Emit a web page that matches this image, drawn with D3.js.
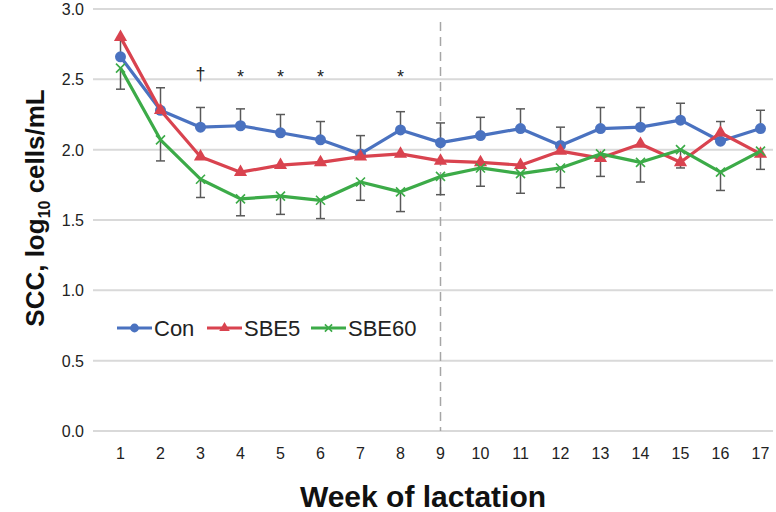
<!DOCTYPE html>
<html lang="en">
<head>
    <meta charset="UTF-8">
    <script src="https://cdn.jsdelivr.net/npm/d3@7/dist/d3.min.js"></script>
    <title>SCC by week</title>
    <style>
        body { margin: 0; background: #fff; }
        text { font-family: Arial, "Liberation Sans", sans-serif; }
    </style>
</head>
<body>
    <svg width="776" height="512"></svg>
    <script>
        const weeks = [1, 2, 3, 4, 5, 6, 7, 8, 9, 10, 11, 12, 13, 14, 15, 16, 17];
        const con   = [2.66, 2.28, 2.16, 2.17, 2.12, 2.07, 1.97, 2.14, 2.05, 2.10, 2.15, 2.03, 2.15, 2.16, 2.21, 2.06, 2.15];
        const conSE = [0.13, 0.16, 0.14, 0.12, 0.13, 0.13, 0.13, 0.13, 0.14, 0.13, 0.14, 0.13, 0.15, 0.14, 0.12, 0.14, 0.13];
        const sbe5  = [2.80, 2.28, 1.95, 1.84, 1.89, 1.91, 1.95, 1.97, 1.92, 1.91, 1.89, 1.99, 1.94, 2.04, 1.91, 2.12, 1.97];
        const sbe60 = [2.58, 2.07, 1.79, 1.65, 1.67, 1.64, 1.77, 1.70, 1.81, 1.87, 1.83, 1.87, 1.97, 1.91, 2.00, 1.84, 1.99];
        const sbe60SE = [0.15, 0.15, 0.13, 0.12, 0.13, 0.13, 0.13, 0.14, 0.13, 0.13, 0.14, 0.14, 0.16, 0.14, 0.13, 0.13, 0.13];
        const yTicks = [0, 0.5, 1.0, 1.5, 2.0, 2.5, 3.0];
        const marks = [{ week: 3, sym: "\u2020" }, { week: 4, sym: "*" }, { week: 5, sym: "*" }, { week: 6, sym: "*" }, { week: 8, sym: "*" }];

        const svg = d3.select('svg');
        const x = d3.scaleLinear().domain([1, 17]).range([120.5, 760.5]);
        const y = d3.scaleLinear().domain([0, 3]).range([431, 9]);

        const series = [
            { name: 'Con', vals: con, color: '#4a72c0', shape: 'circle' },
            { name: 'SBE5', vals: sbe5, color: '#d9434f', shape: 'triangle' },
            { name: 'SBE60', vals: sbe60, color: '#3cab48', shape: 'cross' }
        ];

        // grid lines
        svg.append('g').selectAll('line').data(yTicks).join('line')
            .attr('x1', 93).attr('x2', 773)
            .attr('y1', d => y(d)).attr('y2', d => y(d))
            .attr('stroke', '#d9d9d9').attr('stroke-width', 2);

        // y tick labels
        svg.append('g').selectAll('text').data(yTicks).join('text')
            .attr('x', 84).attr('y', d => y(d) + 6)
            .attr('text-anchor', 'end').attr('font-size', 16).attr('fill', '#222')
            .text(d => d.toFixed(1));

        // x tick labels
        svg.append('g').selectAll('text').data(weeks).join('text')
            .attr('x', d => x(d)).attr('y', 459)
            .attr('text-anchor', 'middle').attr('font-size', 16).attr('fill', '#222')
            .text(d => d);

        // dashed line at week 9
        svg.append('line')
            .attr('x1', x(9)).attr('x2', x(9)).attr('y1', 22).attr('y2', 431)
            .attr('stroke', '#a6a6a6').attr('stroke-width', 1.5).attr('stroke-dasharray', '9,6');

        // error bars
        function errorBars(vals, se, dir) {
            const g = svg.append('g').attr('stroke', '#595959').attr('stroke-width', 1.5);
            weeks.forEach((w, i) => {
                const y0 = y(vals[i]);
                const y1 = y(vals[i] + dir * se[i]);
                g.append('line').attr('x1', x(w)).attr('x2', x(w)).attr('y1', y0).attr('y2', y1);
                g.append('line').attr('x1', x(w) - 4.5).attr('x2', x(w) + 4.5).attr('y1', y1).attr('y2', y1);
            });
        }
        errorBars(con, conSE, 1);
        errorBars(sbe60, sbe60SE, -1);

        const line = d3.line().x((d, i) => x(weeks[i])).y(d => y(d));

        function drawMarker(g, shape, cx, cy, color, s) {
            if (shape === 'circle') {
                g.append('circle').attr('cx', cx).attr('cy', cy).attr('r', 5.5 * s).attr('fill', color);
            } else if (shape === 'triangle') {
                g.append('path').attr('d', d3.symbol().type(d3.symbolTriangle).size(75 * s * s)())
                    .attr('transform', `translate(${cx},${cy})`).attr('fill', color);
            } else {
                const r = 4.5 * s;
                g.append('path').attr('d', `M${cx - r},${cy - r}L${cx + r},${cy + r}M${cx - r},${cy + r}L${cx + r},${cy - r}`)
                    .attr('stroke', color).attr('stroke-width', 1.6).attr('fill', 'none');
            }
        }

        series.forEach(s => {
            const g = svg.append('g');
            g.append('path').datum(s.vals).attr('d', line)
                .attr('fill', 'none').attr('stroke', s.color).attr('stroke-width', 3.2)
                .attr('stroke-linejoin', 'round');
            s.vals.forEach((v, i) => drawMarker(g, s.shape, x(weeks[i]), y(v), s.color, 1));
        });

        // significance marks
        svg.append('g').selectAll('text').data(marks).join('text')
            .attr('x', d => x(d.week)).attr('y', d => d.sym === '*' ? 83 : 80)
            .attr('text-anchor', 'middle').attr('font-size', d => d.sym === '*' ? 18 : 18).attr('fill', '#222')
            .text(d => d.sym);

        // legend
        const legendX = [117, 207, 311];
        series.forEach((s, i) => {
            const g = svg.append('g');
            const lx = legendX[i];
            g.append('line').attr('x1', lx).attr('x2', lx + 35).attr('y1', 328).attr('y2', 328)
                .attr('stroke', s.color).attr('stroke-width', 3.2);
            drawMarker(g, s.shape, lx + 17.5, 328, s.color, 0.8);
            g.append('text').attr('x', lx + 37).attr('y', 336)
                .attr('font-size', 22).attr('fill', '#222').text(s.name);
        });

        // axis titles
        svg.append('text').attr('x', 423).attr('y', 507)
            .attr('text-anchor', 'middle').attr('font-size', 30).attr('font-weight', 'bold')
            .attr('fill', '#111').text('Week of lactation');

        const yt = svg.append('text').attr('transform', 'translate(44,208) rotate(-90)')
            .attr('text-anchor', 'middle').attr('font-size', 26).attr('font-weight', 'bold').attr('fill', '#111');
        yt.append('tspan').text('SCC, log');
        yt.append('tspan').attr('font-size', 16).attr('dy', 6).text('10');
        yt.append('tspan').attr('dy', -6).text(' cells/mL');
    </script>
</body>
</html>
